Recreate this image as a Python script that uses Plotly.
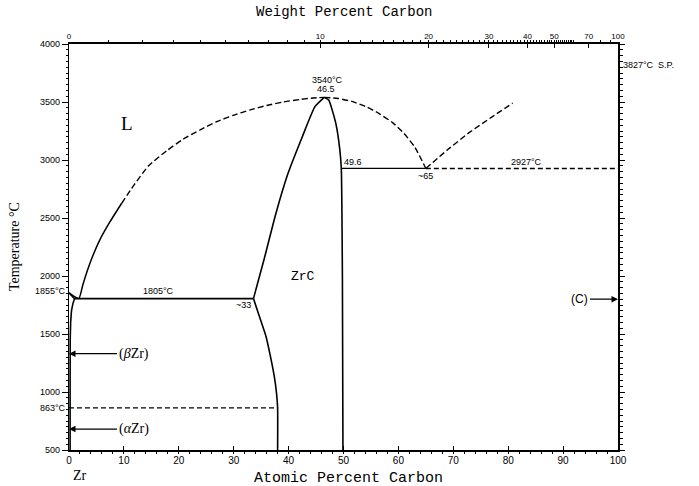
import plotly.graph_objects as go

# ---------------- data (atomic % C, temperature °C) ----------------
# liquidus on the Zr side (solid part)
liq_zr_x = [0.0, 0.9, 1.8, 2.5, 3.3, 4.3, 5.6, 7.5, 9.6]
liq_zr_y = [1855, 1825, 1805, 1920, 2040, 2170, 2310, 2470, 2627]
# liquidus (dashed) up to ZrC congruent maximum
liq_dash_x = [9.6, 11.7, 14.5, 17.8, 20.8, 23.9, 26.9, 29.9, 33.0, 36.0, 39.0, 42.1, 44.5, 46.5]
liq_dash_y = [2627, 2775, 2950, 3080, 3180, 3260, 3330, 3385, 3432, 3470, 3500, 3522, 3535, 3540]
# liquidus (dashed) from ZrC maximum down to eutectic at ~65
liq_r_x = [46.5, 49.0, 51.5, 54.0, 56.5, 59.0, 61.0, 63.0, 65.0]
liq_r_y = [3540, 3530, 3505, 3462, 3400, 3320, 3230, 3110, 2927]
# graphite liquidus (dashed)
liq_c_x = [65.0, 69.0, 73.0, 77.0, 80.8]
liq_c_y = [2927, 3090, 3240, 3370, 3490]
# ZrC phase boundaries
zrc_left_x = [33.6, 35.5, 37.7, 39.9, 42.5, 44.8, 46.5]
zrc_left_y = [1805, 2138, 2541, 2885, 3201, 3460, 3540]
zrc_right_x = [46.5, 47.3, 48.6, 49.3, 49.6, 49.8, 49.9]
zrc_right_y = [3540, 3517, 3316, 3100, 2927, 2000, 500]
zrc_solvus_x = [33.6, 34.7, 35.9, 36.7, 37.4, 37.8, 38.0, 38.0]
zrc_solvus_y = [1805, 1649, 1477, 1305, 1132, 989, 863, 500]
# (βZr)/(αZr) boundary near pure Zr
zr_solvus_x = [0.0, 0.6, 1.0, 0.7, 0.45, 0.3, 0.22, 0.2, 0.2]
zr_solvus_y = [1855, 1830, 1805, 1760, 1700, 1600, 1450, 1000, 500]
# invariant lines
eut_zr_x = [1.0, 33.6]
eut_zr_y = [1805, 1805]
trans_x = [0.0, 38.0]
trans_y = [863, 863]
eut_c_solid_x = [49.6, 65.0]
eut_c_solid_y = [2927, 2927]
eut_c_dash_x = [65.0, 100.0]
eut_c_dash_y = [2927, 2927]

# axes
at_ticks = [0, 10, 20, 30, 40, 50, 60, 70, 80, 90, 100]
temp_ticks = [500, 1000, 1500, 2000, 2500, 3000, 3500, 4000]
wt_ticks = [0, 10, 20, 30, 40, 50, 70, 100]
wt_minor = [w for w in range(1, 60)] + [60, 80, 90]

M_C, M_ZR = 12.011, 91.224


def wt_to_at(w):
    if w >= 100:
        return 100.0
    nc = w / M_C
    nz = (100 - w) / M_ZR
    return 100 * nc / (nc + nz)


fig = go.Figure()


def add(x, y, dash="solid", width=1.6, shape="spline"):
    line = dict(color="black", width=width, dash=dash, shape=shape)
    if shape == "spline":
        line["smoothing"] = 0.5
    fig.add_trace(go.Scatter(x=x, y=y, mode="lines", showlegend=False,
                             line=line, hoverinfo="skip"))


add(liq_zr_x, liq_zr_y, width=1.5)
add(liq_dash_x, liq_dash_y, dash="6px,3px", width=1.4)
add(liq_r_x, liq_r_y, dash="6px,3px", width=1.4)
add(liq_c_x, liq_c_y, dash="6px,3px", width=1.4)
add(zrc_left_x, zrc_left_y, width=1.6)
add(zrc_right_x, zrc_right_y, width=1.6)
add(zrc_solvus_x, zrc_solvus_y, width=1.6)
add(zr_solvus_x, zr_solvus_y, width=1.6, shape="linear")
add(eut_zr_x, eut_zr_y, width=1.8, shape="linear")
add(trans_x, trans_y, dash="5px,3px", width=1.4, shape="linear")
add(eut_c_solid_x, eut_c_solid_y, width=1.3, shape="linear")
add(eut_c_dash_x, eut_c_dash_y, dash="5px,3px", width=1.4, shape="linear")

# top axis trace (invisible) to activate xaxis2
fig.add_trace(go.Scatter(x=[0, 100], y=[500, 500], xaxis="x2", mode="lines",
                         line=dict(width=0), showlegend=False, hoverinfo="skip"))
# right axis trace (invisible)
fig.add_trace(go.Scatter(x=[100], y=[500], yaxis="y2", mode="markers",
                         marker=dict(size=0.1, opacity=0), showlegend=False, hoverinfo="skip"))

tickfont = dict(family="Liberation Sans, Arial", size=9, color="black")
small = dict(family="Liberation Sans, Arial", size=9, color="black")
mono = "Liberation Mono, Courier New, monospace"
serif = "Liberation Serif, Times New Roman, serif"

fig.update_layout(
    width=699, height=486,
    margin=dict(l=69, r=81, t=44, b=36),
    paper_bgcolor="white", plot_bgcolor="white",
    xaxis=dict(range=[0, 100], tickmode="array", tickvals=at_ticks,
               ticktext=[str(t) for t in at_ticks], ticks="inside", ticklen=4,
               tickcolor="black", showline=True, linecolor="black", linewidth=1.5,
               showgrid=False, zeroline=False, tickfont=dict(family="Liberation Sans, Arial", size=10, color="black"),
               minor=dict(dtick=2, ticks="outside", ticklen=2, tickcolor="black")),
    xaxis2=dict(range=[0, 100], overlaying="x", side="top", tickmode="array",
                tickvals=[wt_to_at(w) for w in wt_ticks],
                ticktext=[str(w) for w in wt_ticks], ticks="inside", ticklen=4,
                tickcolor="black", showline=True, linecolor="black", linewidth=1.5,
                showgrid=False, zeroline=False, tickfont=dict(family="Liberation Sans, Arial", size=8, color="black"),
                minor=dict(tickvals=[wt_to_at(w) for w in wt_minor], ticks="outside", ticklen=2, tickcolor="black")),
    yaxis=dict(range=[500, 4000], tickmode="array", tickvals=temp_ticks,
               ticktext=[str(t) for t in temp_ticks], ticks="outside", ticklen=6,
               tickcolor="black", showline=True, linecolor="black", linewidth=1.2,
               showgrid=False, zeroline=False, tickfont=tickfont,
               minor=dict(dtick=50, ticks="outside", ticklen=2, tickcolor="black")),
    yaxis2=dict(range=[500, 4000], overlaying="y", side="right", anchor="x",
                tickmode="array", tickvals=temp_ticks, showticklabels=False,
                ticks="outside", ticklen=5, tickcolor="black", showline=True,
                linecolor="black", linewidth=1.5, showgrid=False, zeroline=False,
                minor=dict(dtick=50, ticks="outside", ticklen=3, tickcolor="black")),
)

ann = []


def text(x, y, s, font, xanchor="center", yanchor="middle", xref="x", yref="y"):
    ann.append(dict(x=x, y=y, text=s, showarrow=False, font=font, xanchor=xanchor,
                    yanchor=yanchor, xref=xref, yref=yref))


text(0.5, 1.078, "Weight Percent Carbon", dict(family=mono, size=14, color="black"), xref="paper", yref="paper")
text(0.51, -0.069, "Atomic Percent Carbon", dict(family=mono, size=15, color="black"), xref="paper", yref="paper")
ann.append(dict(x=-0.1, y=0.5, xref="paper", yref="paper", text="Temperature °C", showarrow=False,
                textangle=-90, xanchor="center", yanchor="middle",
                font=dict(family=serif, size=14, color="black")))
text(2.0, -0.064, "Zr", dict(family=serif, size=14, color="black"), xref="x", yref="paper")
text(100.5, -0.074, "C", dict(family=serif, size=13, color="black"), xref="x", yref="paper")

text(10.5, 3316, "L", dict(family=serif, size=19, color="black"))
text(47.0, 3690, "3540°C", small)
text(46.8, 3612, "46.5", small)
text(49.7, 2985, "49.6", small, xanchor="left")
text(65.0, 2862, "~65", small)
text(83.4, 2985, "2927°C", small)
text(42.6, 1994, "ZrC", dict(family=mono, size=13, color="black"))
text(16.3, 1868, "1805°C", small)
text(31.8, 1752, "~33", small)
ann.append(dict(x=1.005, y=3815, xref="paper", yref="y", text="3827°C  S.P.", showarrow=False,
                font=small, xanchor="left", yanchor="middle"))
ann.append(dict(x=-0.002, y=1868, xref="paper", yref="y", text="1855°C", showarrow=False,
                font=small, xanchor="right", yanchor="middle"))
ann.append(dict(x=-0.002, y=862, xref="paper", yref="y", text="863°C", showarrow=False,
                font=small, xanchor="right", yanchor="middle"))

# arrows
for lbl, yv in [("(<i>β</i>Zr)", 1330), ("(<i>α</i>Zr)", 680)]:
    ann.append(dict(x=0, y=yv, xref="x", yref="y", ax=48, ay=0, axref="pixel", ayref="pixel",
                    text=lbl, showarrow=True, arrowhead=2, arrowsize=1, arrowwidth=1.3,
                    arrowcolor="black", standoff=0,
                    font=dict(family=serif, size=14, color="black"), xanchor="left"))
ann.append(dict(x=100, y=1800, xref="x", yref="y", ax=-28, ay=0, axref="pixel", ayref="pixel",
                text="(C)", showarrow=True, arrowhead=2, arrowsize=1, arrowwidth=1.3,
                arrowcolor="black", standoff=0,
                font=dict(family="Liberation Sans, Arial", size=12, color="black"), xanchor="right"))

fig.update_layout(annotations=ann)
fig.write_html("out.html")
